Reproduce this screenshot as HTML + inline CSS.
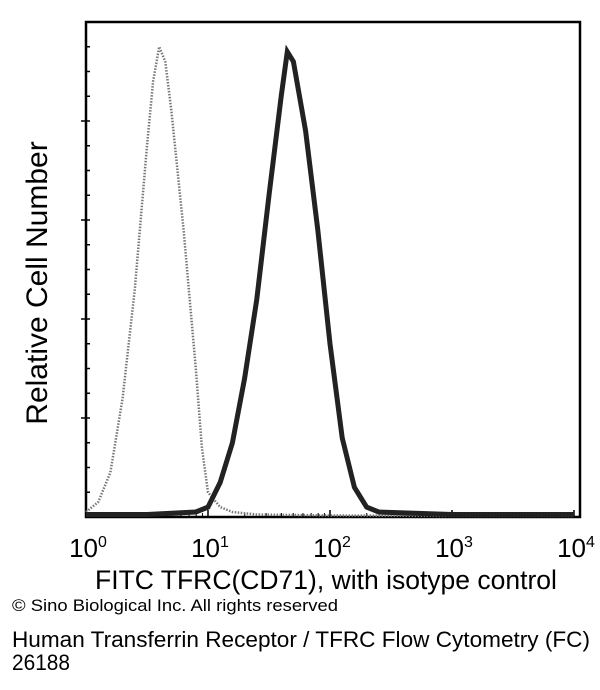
<!DOCTYPE html>
<html><head><meta charset="utf-8"><style>
body{margin:0;background:#fff;width:600px;height:690px;overflow:hidden;font-family:"Liberation Sans",sans-serif;}
svg{position:absolute;left:0;top:0}
</style></head><body>
<svg width="600" height="690">
<g id="axes"></g>
<g id="series"></g>
<text transform="translate(47,283) rotate(-90)" text-anchor="middle" font-size="30" fill="#000">Relative Cell Number</text>
<text x="326" y="589" text-anchor="middle" font-size="26.5" fill="#000">FITC TFRC(CD71), with isotype control</text>
<text x="12" y="611" font-size="17" fill="#000" textLength="326" lengthAdjust="spacingAndGlyphs">© Sino Biological Inc. All rights reserved</text>
<text x="12" y="647" font-size="22" fill="#000" textLength="578" lengthAdjust="spacingAndGlyphs">Human Transferrin Receptor / TFRC Flow Cytometry (FC)</text>
<text x="12" y="670" font-size="22" fill="#000" textLength="58" lengthAdjust="spacingAndGlyphs">26188</text>
</svg>
<script>
const xDecades=[0,1,2,3,4];
const isoLog=[0,0.1,0.2,0.3,0.4,0.5,0.55,0.6,0.65,0.7,0.8,0.9,0.95,1.0,1.1,1.2,1.4,2,3,4];
const isoVal=[1,3,9,24,46,75,88,95,92,82,58,30,14,5,2,1,0.5,0.3,0.2,0.2];
const cdLog=[0,0.5,0.9,1.0,1.1,1.2,1.3,1.4,1.5,1.6,1.65,1.7,1.8,1.9,2.0,2.1,2.2,2.3,2.4,3,4];
const cdVal=[0.5,0.5,1,2,7,15,28,44,65,85,94,92,78,58,35,16,6,2,1,0.5,0.5];
const L=86,R=580,T=22,B=517;
const xs=v=>L+v*122;
const ys=v=>B-v/100*(B-T)*1.0;
const NS="http://www.w3.org/2000/svg";
function mk(t,a,p){const e=document.createElementNS(NS,t);for(const k in a)e.setAttribute(k,a[k]);p.appendChild(e);return e;}
const ax=document.getElementById('axes');
const frame=mk('rect',{x:L,y:T,width:R-L,height:B-T,fill:'none',stroke:'#000','stroke-width':2.5},ax);


for(let i=1;i<20;i++){const y=T+i*(B-T)/20;mk('line',{x1:L-(i%4==0?5:0),x2:L+4,y1:y,y2:y,stroke:'#000','stroke-width':1.5},ax);}
xDecades.forEach((d,i)=>{
 const x=xs(d);
 if(i<4)for(let m=2;m<10;m++){const xm=xs(d+Math.log10(m));mk('line',{x1:xm,x2:xm,y1:B,y2:B-4,stroke:'#000','stroke-width':1},ax);}
 mk('line',{x1:x,x2:x,y1:B,y2:B-7,stroke:'#000','stroke-width':1.5},ax);
 const t=mk('text',{x:x+2,y:557,'text-anchor':'middle','font-size':26,fill:'#000'},ax);
 
 
 t.textContent='10';
 const s=mk('tspan',{dy:-10,'font-size':16},t);s.textContent=String(d);
});
const sg=document.getElementById('series');
function path(lg,vals){return lg.map((l,i)=>(i?'L':'M')+xs(l).toFixed(1)+','+ys(vals[i]).toFixed(1)).join(' ');}
const iso=mk('path',{d:path(isoLog,isoVal),fill:'none',stroke:'#777','stroke-width':2.5,'stroke-dasharray':'1.5 1.5'},sg);


const cd=mk('path',{d:path(cdLog,cdVal),fill:'none',stroke:'#222','stroke-width':5},sg);


</script>
</body></html>
